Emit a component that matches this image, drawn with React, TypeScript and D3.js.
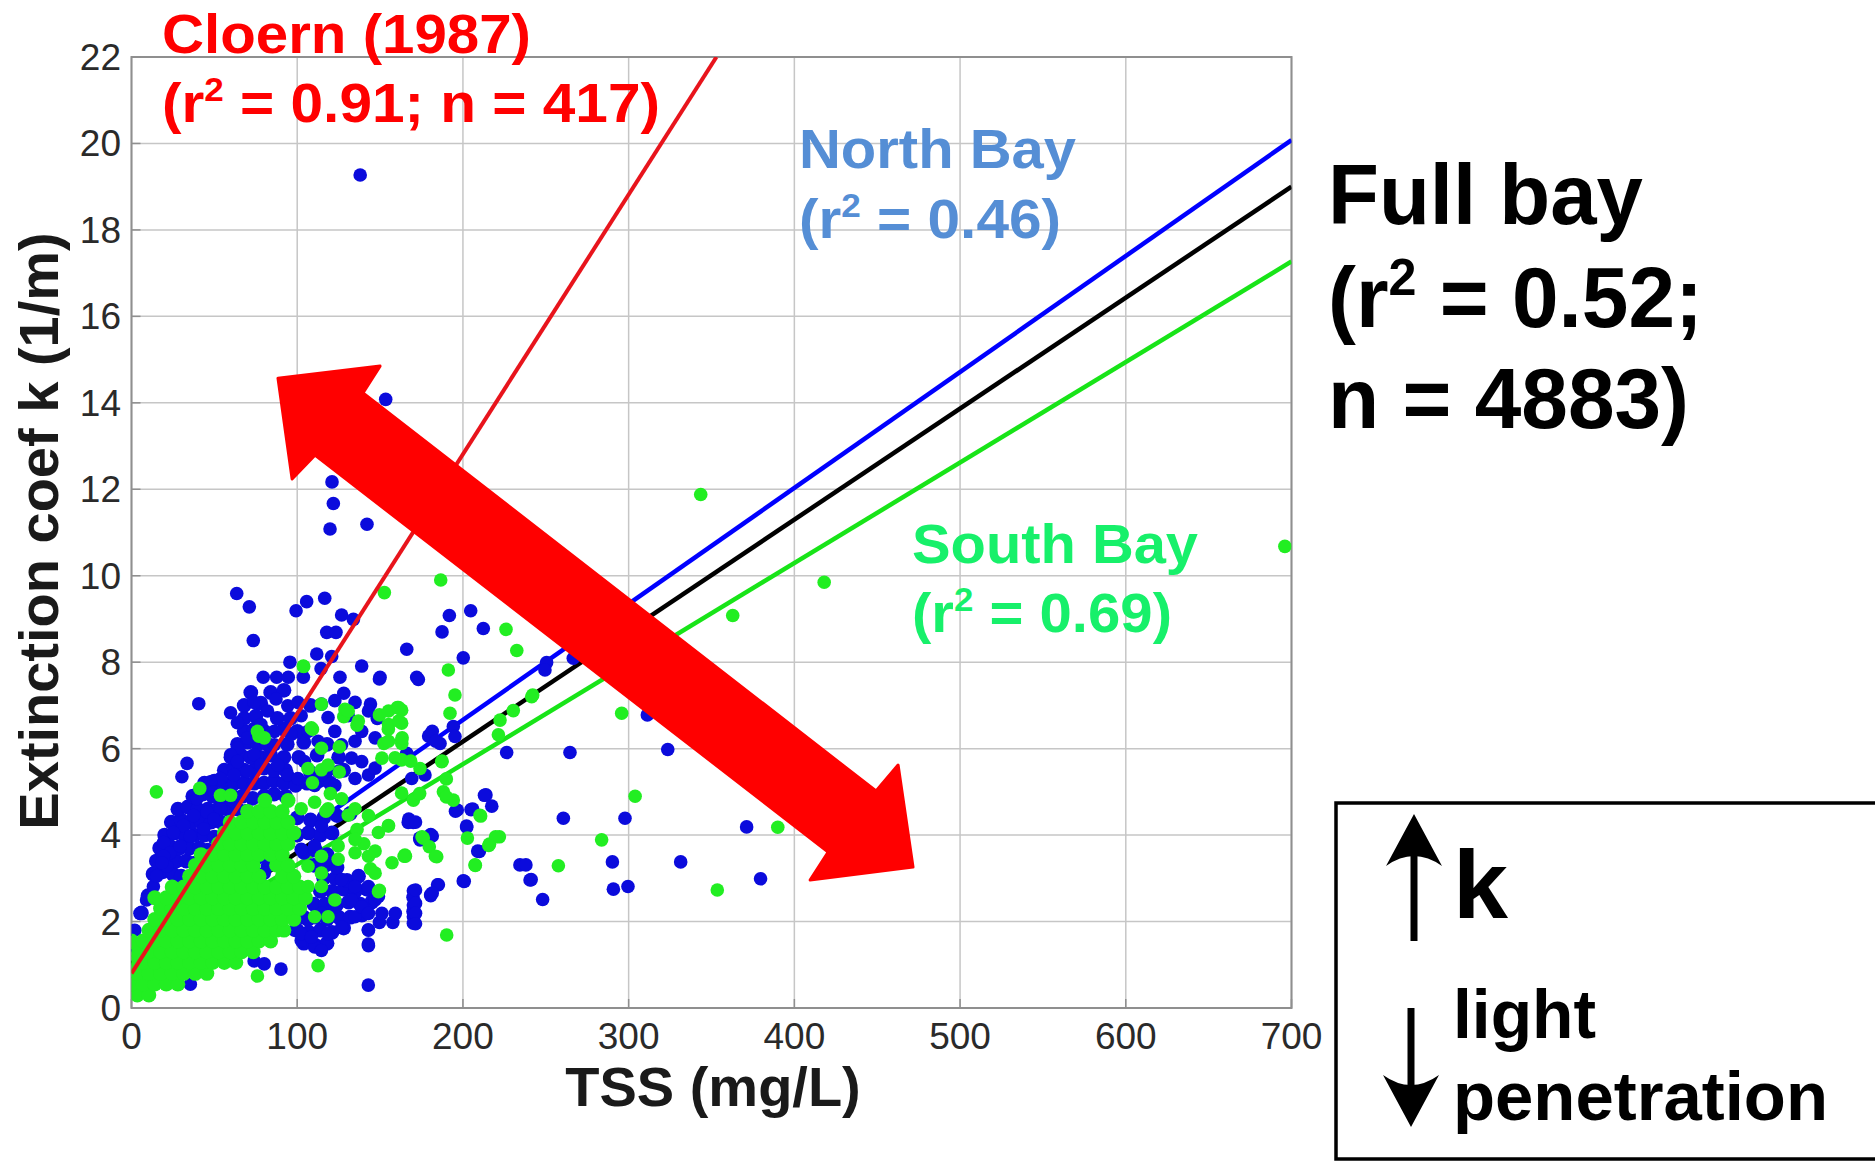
import React from 'react'
import * as d3 from 'd3'

// axis ticks
const xTicks = [0, 100, 200, 300, 400, 500, 600, 700]
const yTicks = [0, 2, 4, 6, 8, 10, 12, 14, 16, 18, 20, 22]

// fitted lines: [TSS, k]
const cloernFit: [number, number][] = [[0, 0.8], [353, 22]]
const northBayFit: [number, number][] = [[0, 1.3], [700, 20.08]]
const fullBayFit: [number, number][] = [[0, 1.03], [700, 19.0]]
const southBayFit: [number, number][] = [[0, 0.99], [700, 17.27]]

// North Bay samples (blue), outliers and scattered points
const northBayScatter: [number, number][] = [
  [138, 19.27], [153.4, 14.08], [121, 12.17], [121.8, 11.67], [119.8, 11.08], [142.1, 11.19],
  [63.5, 9.59], [71.1, 9.28], [105.7, 9.4], [99.3, 9.19], [116.6, 9.48], [126.8, 9.09], [133.9, 8.99],
  [117.8, 8.69], [123.4, 8.69], [73.5, 8.5], [166.1, 8.3], [111.8, 8.19], [120.8, 8.13], [95.6, 8.0],
  [138.9, 7.91], [114.4, 7.85], [79.5, 7.65], [87.6, 7.65], [94.6, 7.65], [103.7, 7.65], [125.8, 7.65],
  [150, 7.65], [172.1, 7.65], [191.8, 9.08], [204.7, 9.19], [187.4, 8.7], [212.3, 8.78], [200.2, 8.1],
  [173.1, 7.6], [250.5, 7.99], [249.5, 7.82], [266.6, 8.09], [311.3, 6.78], [323.6, 5.98], [226.4, 5.91],
  [264.6, 5.91], [260.6, 4.39], [297.8, 4.39], [371.2, 4.19], [379.6, 2.99], [290.2, 3.38], [331.4, 3.38],
  [234.4, 3.31], [238, 3.31], [240.5, 2.96], [248.1, 2.51], [290.8, 2.75], [299.6, 2.81],
  [200.2, 2.94], [185.2, 2.85], [180.5, 2.62], [170.1, 2.71], [170.1, 2.38], [170.1, 2.11], [170.1, 1.96],
  [213.9, 4.93], [217.4, 4.67], [196.6, 4.58], [205.9, 4.6], [202.3, 4.18], [209.9, 3.62], [167, 4.29],
  [170, 4.29], [180.5, 4.0], [174.1, 3.89], [180.1, 6.32], [186.2, 6.12], [194.2, 6.51], [195.2, 6.28],
  [169.1, 5.31], [177.1, 5.39], [166.1, 5.89], [149.6, 7.61], [144.2, 7.03], [148.3, 6.7], [128.1, 7.28],
  [179.3, 6.29], [142.9, 0.53], [142.9, 1.48], [142.9, 1.81], [149.6, 1.98], [157.7, 1.98], [169.9, 2.23],
  [169.9, 2.56], [180.6, 2.6], [184.7, 2.85], [200.8, 2.93], [180.6, 4.01], [173.9, 3.93], [195.5, 4.55],
  [204.9, 4.59], [202.2, 4.21], [208.9, 3.63], [213, 4.92], [241.2, 2.97],
  [40.6, 7.04], [59.8, 6.83], [63.9, 6.6], [74, 7.07], [82.1, 6.87], [87.2, 7.15], [94.3, 6.99],
  [100.4, 7.07], [102.4, 6.76], [114.6, 7.03], [122.7, 7.11], [134.9, 7.07], [143, 6.87], [118.6, 6.72],
  [130.8, 6.76], [78.1, 6.56], [86.2, 6.4], [96.3, 6.33], [106.5, 6.4], [112.6, 6.17], [122.7, 6.4],
  [126.8, 6.09], [134.9, 6.17], [138.9, 6.4], [147, 6.25], [86.2, 6.09], [70, 6.25], [63.9, 6.01],
  [59.8, 5.86], [63.9, 5.7], [74, 5.86], [78.1, 5.62], [70, 5.47], [61.9, 5.39], [53.7, 5.31], [47.7, 5.23],
  [33.5, 5.66], [30.4, 5.35], [88.2, 5.62], [94.3, 5.39], [104.4, 5.7], [100.4, 5.31], [114.6, 5.39],
  [124.7, 5.47], [132.8, 5.78], [138.9, 5.7], [143, 5.39], [147, 5.55], [134.9, 5.31], [122.7, 5.15],
  [110.5, 5.15], [39.5, 4.84], [49.7, 5.0], [57.8, 4.84], [53.7, 4.61], [45.6, 4.53], [37.5, 4.45],
  [31.4, 4.22], [25.3, 4.06], [19.3, 3.83], [23.3, 3.59], [29.4, 3.75], [35.5, 3.98], [43.6, 4.14],
  [49.7, 4.37], [61.9, 4.76], [19.3, 3.51], [21.3, 3.28], [5.1, 2.19], [2, 1.8], [9.1, 2.5], [13.2, 2.81],
  [15.2, 3.05], [18.3, 3.36], [114.6, 4.22], [106.5, 4.06], [102.4, 3.67], [110.5, 3.75], [118.6, 3.44],
  [126.8, 2.97], [134.9, 2.81], [143, 2.73], [132.8, 2.5], [122.7, 2.34], [114.6, 2.19], [106.5, 2.03],
  [98.4, 1.8], [102.4, 1.56], [110.5, 1.41], [118.6, 1.72], [126.8, 1.87], [134.9, 2.11], [138.9, 2.34],
  [147, 2.5], [143, 2.81], [82.1, 3.28], [80.1, 3.12], [149, 2.58], [171.4, 2.73], [181.5, 2.66],
  [171.4, 2.42], [171.4, 2.19], [171.4, 1.95], [159.2, 2.19], [151.1, 2.19], [143, 2.19], [143, 1.8],
  [143, 1.44], [167.3, 4.37], [171.4, 4.3], [181.5, 3.98], [90.2, 0.9], [74, 1.09], [80.1, 1.02],
  [35.5, 0.55], [102.4, 1.72], [108.5, 1.64], [114.6, 1.33], [181.5, 6.4], [183.6, 6.17],
]

// North Bay samples packed in the dense cloud
const northBayCloud: [number, number][] = [
  [6, 2.2], [10, 2.6], [13, 3.1], [19, 3.15], [25, 3.1], [30, 3.05],
  [15, 3.4], [21, 3.45], [27, 3.4], [33, 3.4], [38, 3.35],
  [17, 3.7], [23, 3.75], [29, 3.7], [35, 3.7], [41, 3.7], [46, 3.65],
  [20, 4.0], [26, 4.05], [32, 4.0], [38, 4.0], [44, 4.0], [50, 3.95],
  [24, 4.3], [30, 4.35], [36, 4.3], [42, 4.3], [48, 4.3], [54, 4.3], [60, 4.25],
  [28, 4.6], [34, 4.65], [40, 4.6], [46, 4.6], [52, 4.6], [58, 4.6], [64, 4.6], [69, 4.55],
  [37, 4.9], [43, 4.95], [49, 4.9], [55, 4.9], [61, 4.9], [67, 4.9], [73, 4.85], [80, 4.9], [86, 4.95], [93, 4.9],
  [44, 5.2], [50, 5.25], [56, 5.2], [62, 5.2], [68, 5.2], [74, 5.2], [80, 5.2], [86, 5.25], [92, 5.2],
  [99, 5.15], [106, 5.2], [113, 5.25], [120, 5.2],
  [56, 5.5], [62, 5.55], [68, 5.5], [74, 5.5], [80, 5.55], [86, 5.5], [93, 5.5], [108, 5.45], [118, 5.5], [128, 5.5],
  [60, 5.8], [66, 5.85], [72, 5.8], [78, 5.8], [84, 5.85], [92, 5.8], [101, 5.8], [112, 5.85], [125, 5.8],
  [64, 6.1], [70, 6.15], [76, 6.1], [82, 6.1], [94, 6.1], [104, 6.15], [118, 6.1],
  [68, 6.4], [74, 6.45], [80, 6.4], [92, 6.45], [100, 6.4],
  [68, 6.7], [75, 6.75], [88, 6.7], [96, 6.7],
  [68, 7.0], [78, 7.05], [108, 7.0], [72, 7.3], [84, 7.3], [92, 7.35],
  [104, 1.5], [111, 1.45], [118, 1.5], [100, 1.8], [107, 1.75], [114, 1.8], [121, 1.75], [128, 1.85],
  [104, 2.1], [111, 2.1], [118, 2.05], [125, 2.1], [132, 2.1], [139, 2.15],
  [110, 2.4], [117, 2.4], [124, 2.4], [131, 2.45], [138, 2.4], [145, 2.45],
  [114, 2.7], [121, 2.7], [128, 2.75], [135, 2.7], [142, 2.75],
  [116, 3.0], [123, 3.0], [130, 2.95], [137, 3.05], [110, 3.3], [117, 3.3], [124, 3.25],
  [104, 3.6], [111, 3.65], [118, 3.55], [100, 4.0], [107, 4.05], [114, 4.0], [121, 4.05],
  [100, 4.4], [108, 4.35], [116, 4.4], [124, 4.45], [132, 4.5],
]

// South Bay samples (green), scattered points
const southBayScatter: [number, number][] = [
  [152.6, 9.61], [103.7, 7.91], [343.5, 11.88], [186.6, 9.9], [226, 8.76], [232.5, 8.27], [191.2, 7.82],
  [195.2, 7.24], [242.1, 7.24], [362.8, 9.08], [696, 10.68], [418, 9.85], [295.8, 6.82], [303.9, 4.9],
  [283.7, 3.89], [257.6, 3.29], [353.5, 2.73], [190.2, 1.69], [390, 4.18], [210.7, 4.44], [202.7, 3.93],
  [222, 3.96], [216, 3.79], [207.3, 3.31], [176.1, 3.93], [179.7, 3.73], [184.2, 3.5], [165, 3.54],
  [188.2, 5.0], [194.2, 4.81], [192.2, 6.82], [222.4, 6.66], [230.4, 6.88], [241.5, 7.2], [221.4, 6.32],
  [187.2, 5.7], [174.1, 5.54], [163, 5.74], [163, 6.59], [163, 6.89], [163, 6.2], [170.1, 4.81], [163, 4.97],
  [149.6, 6.78], [155, 6.45], [160.4, 6.95], [152.3, 6.12], [163.1, 6.12], [159, 5.79], [168.5, 5.71],
  [187.4, 5.71], [173.9, 4.96], [155, 4.21], [164.5, 3.51], [175.3, 3.96], [183.4, 3.51], [190, 4.88],
  [210.3, 4.46], [219.7, 3.96], [207.5, 3.3], [215.6, 3.76], [190, 5.3], [149.6, 2.72], [144.2, 3.22],
  [140.2, 3.8], [147, 3.63], [103.9, 7.9], [109.2, 6.45], [106.5, 5.54], [125.4, 6.04], [136.1, 6.54],
  [128.1, 6.74], [114.6, 7.03], [76.9, 6.29], [15, 5.0], [125.4, 5.46], [109.2, 5.21], [120, 4.96],
  [117.3, 4.55], [130.8, 4.46], [136.1, 4.13], [102.4, 4.61], [110.5, 4.76], [118.6, 4.61], [126.8, 4.84],
  [134.9, 4.61], [143, 4.45], [149, 4.06], [134.9, 3.9], [124.7, 3.75], [114.6, 3.51], [106.5, 3.28],
  [106.5, 2.81], [114.6, 2.81], [124.7, 3.44], [134.9, 3.59], [143, 3.51], [147, 3.12], [114.6, 3.12],
  [122.7, 2.5], [110.5, 2.11], [118.6, 2.11], [112.6, 0.98], [76, 0.74], [149, 2.69], [157.2, 3.36],
  [165.3, 3.51], [155.1, 4.22], [76, 6.4], [80.1, 6.25], [108.5, 6.48], [114.6, 6.01], [114.6, 5.51],
  [118.6, 5.62], [128.8, 6.91], [155.1, 6.87], [161.2, 6.95], [155.1, 6.56], [161.2, 6.64], [163.3, 6.25],
  [155.1, 6.17], [151.1, 5.78], [130.8, 6.87], [136.9, 6.64], [41.2, 5.08], [53.7, 4.92], [59.8, 4.92],
]

// South Bay samples packed in the dense core
const southBayCloud: [number, number][] = [
  [3.5, 0.3], [10.5, 0.3],
  [0, 0.55], [7, 0.55], [14, 0.55], [21, 0.55], [28, 0.55],
  [3.5, 0.8], [10.5, 0.8], [17.5, 0.8], [24.5, 0.8], [31.5, 0.8], [38.5, 0.8], [45.5, 0.8],
  [0, 1.05], [7, 1.05], [14, 1.05], [21, 1.05], [28, 1.05], [35, 1.05], [42, 1.05], [49, 1.05], [56, 1.05], [63, 1.05],
  [3.5, 1.3], [10.5, 1.3], [17.5, 1.3], [24.5, 1.3], [31.5, 1.3], [38.5, 1.3], [45.5, 1.3], [52.5, 1.3],
  [59.5, 1.3], [66.5, 1.3], [73.5, 1.3],
  [0, 1.55], [7, 1.55], [14, 1.55], [21, 1.55], [28, 1.55], [35, 1.55], [42, 1.55], [49, 1.55], [56, 1.55],
  [63, 1.55], [70, 1.55], [77, 1.55], [84, 1.55],
  [10.5, 1.8], [17.5, 1.8], [24.5, 1.8], [31.5, 1.8], [38.5, 1.8], [45.5, 1.8], [52.5, 1.8], [59.5, 1.8],
  [66.5, 1.8], [73.5, 1.8], [80.5, 1.8], [87.5, 1.8], [92, 1.8],
  [14, 2.05], [21, 2.05], [28, 2.05], [35, 2.05], [42, 2.05], [49, 2.05], [56, 2.05], [63, 2.05],
  [70, 2.05], [77, 2.05], [84, 2.05], [91, 2.05], [98, 2.05],
  [17.5, 2.3], [24.5, 2.3], [31.5, 2.3], [38.5, 2.3], [45.5, 2.3], [52.5, 2.3], [59.5, 2.3], [66.5, 2.3],
  [73.5, 2.3], [80.5, 2.3], [87.5, 2.3], [94.5, 2.3], [101.5, 2.3],
  [14, 2.55], [21, 2.55], [28, 2.55], [35, 2.55], [42, 2.55], [49, 2.55], [56, 2.55], [63, 2.55],
  [70, 2.55], [77, 2.55], [84, 2.55], [91, 2.55], [98, 2.55], [105, 2.55],
  [24.5, 2.8], [31.5, 2.8], [38.5, 2.8], [45.5, 2.8], [52.5, 2.8], [59.5, 2.8], [66.5, 2.8], [73.5, 2.8],
  [80.5, 2.8], [87.5, 2.8], [94.5, 2.8], [101.5, 2.8],
  [35, 3.05], [42, 3.05], [49, 3.05], [56, 3.05], [63, 3.05], [70, 3.05], [77, 3.05], [91, 3.05], [98, 3.05],
  [38.5, 3.3], [45.5, 3.3], [52.5, 3.3], [59.5, 3.3], [66.5, 3.3], [73.5, 3.3], [87.5, 3.3], [94.5, 3.3],
  [42, 3.55], [49, 3.55], [56, 3.55], [63, 3.55], [70, 3.55], [77, 3.55], [84, 3.55], [91, 3.55],
  [52.5, 3.8], [59.5, 3.8], [66.5, 3.8], [73.5, 3.8], [80.5, 3.8], [87.5, 3.8], [94.5, 3.8],
  [56, 4.05], [63, 4.05], [70, 4.05], [77, 4.05], [84, 4.05], [91, 4.05], [98, 4.05],
  [59.5, 4.3], [66.5, 4.3], [73.5, 4.3], [80.5, 4.3], [87.5, 4.3], [94.5, 4.3],
  [70, 4.55], [77, 4.55], [84, 4.55], [91, 4.55], [80.5, 4.8], [94.5, 4.8],
]

// big double arrow outline, in data units [TSS, k]
const bigArrow: [number, number][] = [
  [88.4, 14.57], [150, 14.85], [139.7, 14.23], [449.3, 5.02], [462.6, 5.62], [471.6, 3.26],
  [409.5, 2.96], [420.4, 3.61], [110.7, 12.79], [96.9, 12.24],
]

const narrow = "'Liberation Sans Narrow', 'Arial Narrow', 'Liberation Sans', Arial, sans-serif"
const sans = "'Liberation Sans', Arial, Helvetica, sans-serif"

const RLabel = (p: { x: number; y: number; size: number; fill: string; len: number; pre: string; post: string }) => (
  <text x={p.x} y={p.y} fontSize={p.size} fill={p.fill} fontFamily={narrow} fontWeight="bold"
    textLength={p.len} lengthAdjust="spacingAndGlyphs">
    {p.pre}
    <tspan dy={-p.size * 0.38} fontSize={p.size * 0.6}>2</tspan>
    <tspan dy={p.size * 0.38}>{p.post}</tspan>
  </text>
)

const Label = (p: { x: number; y: number; size: number; fill: string; len: number; text: string }) => (
  <text x={p.x} y={p.y} fontSize={p.size} fill={p.fill} fontFamily={narrow} fontWeight="bold"
    textLength={p.len} lengthAdjust="spacingAndGlyphs">{p.text}</text>
)

export default function App() {
  const W = 1875, H = 1162
  const x = d3.scaleLinear().domain([0, 700]).range([131.5, 1291.5])
  const y = d3.scaleLinear().domain([0, 22]).range([1008, 57])
  const straight = d3.line<[number, number]>().x(d => x(d[0])).y(d => y(d[1]))
  const arrowPath = d3.line<[number, number]>().x(d => x(d[0])).y(d => y(d[1])).curve(d3.curveLinearClosed)(bigArrow) || ''

  const [x0, x1] = x.range()
  const [y0, y1] = y.range()
  const blue = '#0b0bdc'
  const green = '#22ee22'

  return (
    <svg width={W} height={H} style={{ position: 'absolute', left: 0, top: 0, background: '#fff' }}>
      <defs>
        <clipPath id="plot">
          <rect x={x0} y={y1} width={x1 - x0} height={y0 - y1} />
        </clipPath>
      </defs>
      <rect width={W} height={H} fill="#fff" />

      {/* grid */}
      <g stroke="#c6c6c6" strokeWidth={1.5}>
        {xTicks.map(t => <line key={'gx' + t} x1={x(t)} x2={x(t)} y1={y1} y2={y0} />)}
        {yTicks.map(t => <line key={'gy' + t} x1={x0} x2={x1} y1={y(t)} y2={y(t)} />)}
      </g>
      <rect x={x0} y={y1} width={x1 - x0} height={y0 - y1} fill="none" stroke="#8f8f8f" strokeWidth={2} />
      <g stroke="#8f8f8f" strokeWidth={1.5}>
        {xTicks.map(t => <line key={'tx' + t} x1={x(t)} x2={x(t)} y1={y0} y2={y0 - 9} />)}
        {yTicks.map(t => <line key={'ty' + t} x1={x0} x2={x0 + 9} y1={y(t)} y2={y(t)} />)}
      </g>

      {/* tick labels */}
      <g fontFamily={sans} fontSize={37} fill="#2a2a2a">
        {xTicks.map(t => <text key={'lx' + t} x={x(t)} y={1049} textAnchor="middle">{t}</text>)}
        {yTicks.map(t => <text key={'ly' + t} x={121} y={y(t) + 13} textAnchor="end">{t}</text>)}
      </g>

      {/* axis titles */}
      <text x={713} y={1106} textAnchor="middle" fontFamily={sans} fontWeight="bold" fontSize={56} fill="#1a1a1a">TSS (mg/L)</text>
      <text transform="translate(58,531) rotate(-90)" textAnchor="middle" fontFamily={sans} fontWeight="bold" fontSize={56} fill="#1a1a1a">Extinction coef k (1/m)</text>

      <g clipPath="url(#plot)">
        {/* regression lines under the samples */}
        <path d={straight(northBayFit) || ''} stroke="#0000ff" strokeWidth={4.5} fill="none" />
        <path d={straight(fullBayFit) || ''} stroke="#000" strokeWidth={4.5} fill="none" />
        <path d={straight(southBayFit) || ''} stroke="#18e418" strokeWidth={4.5} fill="none" />

        {northBayCloud.map((d, i) => (
          <circle key={'nc' + i} cx={x(d[0])} cy={y(d[1])} r={7.4} fill={blue} />
        ))}
        {northBayScatter.map((d, i) => (
          <circle key={'n' + i} cx={x(d[0])} cy={y(d[1])} r={6.8} fill={blue} />
        ))}
        {southBayCloud.map((d, i) => (
          <circle key={'sc' + i} cx={x(d[0])} cy={y(d[1])} r={7.4} fill={green} />
        ))}
        {southBayScatter.map((d, i) => (
          <circle key={'s' + i} cx={x(d[0])} cy={y(d[1])} r={6.8} fill={green} />
        ))}

        <path d={straight(cloernFit) || ''} stroke="#e8141c" strokeWidth={4} fill="none" />
      </g>

      {/* big red double arrow */}
      <path d={arrowPath} fill="#ff0000" stroke="#ff0000" strokeWidth={3} strokeLinejoin="round" />

      {/* annotations */}
      <Label x={162} y={53} size={56} fill="#ff0000" len={369} text="Cloern (1987)" />
      <RLabel x={162} y={122} size={56} fill="#ff0000" len={498} pre="(r" post=" = 0.91; n = 417)" />
      <Label x={799} y={168} size={56} fill="#558ed5" len={277} text="North Bay" />
      <RLabel x={799} y={238} size={56} fill="#558ed5" len={262} pre="(r" post=" = 0.46)" />
      <Label x={912} y={563} size={56} fill="#17f06a" len={286} text="South Bay" />
      <RLabel x={912} y={632} size={56} fill="#17f06a" len={260} pre="(r" post=" = 0.69)" />
      <Label x={1328} y={224} size={85} fill="#000" len={315} text="Full bay" />
      <RLabel x={1328} y={327} size={85} fill="#000" len={375} pre="(r" post=" = 0.52;" />
      <Label x={1328} y={428} size={85} fill="#000" len={361} text="n = 4883)" />

      {/* k / light penetration box */}
      <rect x={1336} y={803} width={600} height={356} fill="none" stroke="#000" strokeWidth={3.5} />
      <line x1={1414} x2={1414} y1={850} y2={941} stroke="#000" strokeWidth={7} />
      <path d="M1414,814 L1442,866 Q1414,846 1386,866 Z" fill="#000" />
      <line x1={1411} x2={1411} y1={1008} y2={1092} stroke="#000" strokeWidth={7} />
      <path d="M1411,1127 L1439,1075 Q1411,1095 1383,1075 Z" fill="#000" />
      <Label x={1453} y={918} size={96} fill="#000" len={55} text="k" />
      <Label x={1453} y={1038} size={68} fill="#000" len={143} text="light" />
      <Label x={1453} y={1120} size={68} fill="#000" len={375} text="penetration" />
    </svg>
  )
}
